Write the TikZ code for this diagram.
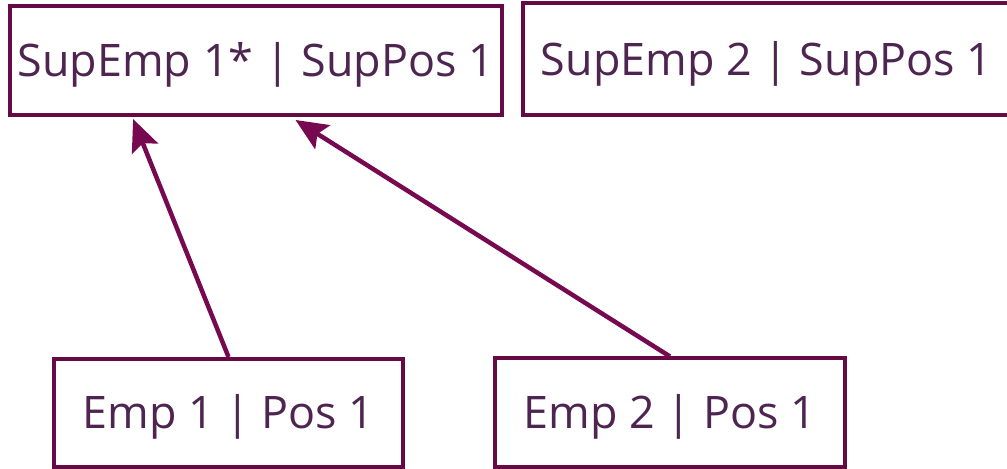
\documentclass[tikz,border=0pt]{standalone}
\usepackage{fontspec}
\setmainfont{Open Sans}
\usetikzlibrary{arrows.meta}
\usetikzlibrary{calc}
\definecolor{boxedge}{HTML}{660A45}
\definecolor{arrowcol}{HTML}{76094F}
\definecolor{boxtext}{HTML}{4E2550}

\begin{document}
\begin{tikzpicture}[x=1bp,y=1bp,>={Stealth[length=32bp,width=28bp,inset=6bp]},line join=miter,
  emp_box/.style={draw=boxedge,line width=4bp,text=boxtext,inner sep=0pt,text height=32bp,text depth=0bp,
    font=\fontsize{45}{54}\selectfont},
  link/.style={draw=arrowcol,line width=4.5bp,->}]
\useasboundingbox (0,0) rectangle (1007,469);
%%
\node (sup_1) at (255.75bp,408.5bp) [emp_box,minimum width=492.5bp,minimum height=109bp] {SupEmp 1* | SupPos 1};
  \node (sup_2) at (766.5bp,409.75bp) [emp_box,minimum width=487bp,minimum height=111.5bp] {SupEmp 2 | SupPos 1};
  \node (emp_1) at (228.5bp,56bp) [emp_box,minimum width=349bp,minimum height=108bp] {Emp 1 | Pos 1};
  \node (emp_2) at (670bp,56.25bp) [emp_box,minimum width=350bp,minimum height=108.5bp] {Emp 2 | Pos 1};
  \coordinate (tip_1) at ($(sup_1.south west)!0.253!(sup_1.south east)+(0,-2bp)$);
  \coordinate (tip_2) at ($(sup_1.south west)!0.58!(sup_1.south east)+(0,-3bp)$);
  \draw [link] (emp_1.north) -- (tip_1);
  \draw [link] (emp_2.north) -- (tip_2);
%
\end{tikzpicture}
\end{document}
